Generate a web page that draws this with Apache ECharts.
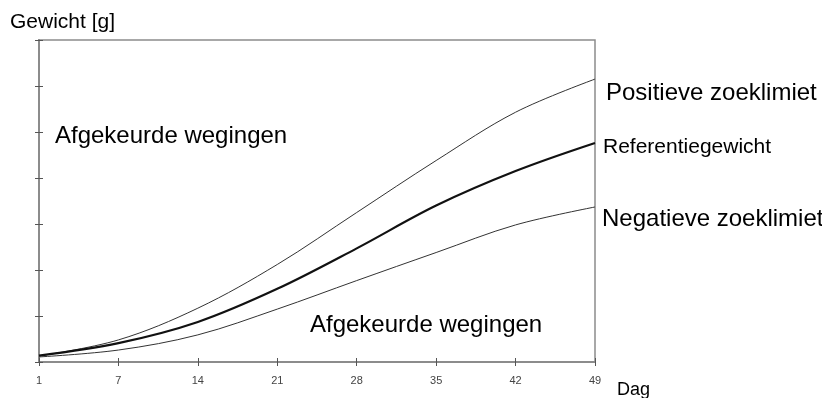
<!DOCTYPE html>
<html>
<head>
<meta charset="utf-8">
<script src="https://cdn.jsdelivr.net/npm/echarts@6/dist/echarts.min.js"></script>
<style>
  html, body { margin: 0; padding: 0; background: #fff; }
  #chart { width: 822px; height: 398px; }
</style>
</head>
<body>
<div id="chart"></div>
<script>
// days on the x axis (0 is shown as "1")
const days = [0, 7, 14, 21, 28, 35, 42, 49];
const xTicks = ['1', '7', '14', '21', '28', '35', '42', '49'];

// curves (arbitrary weight units, 7 grid steps)
const positief = [0.13, 0.48, 1.17, 2.12, 3.25, 4.38, 5.43, 6.15];
const referentie = [0.14, 0.41, 0.87, 1.59, 2.47, 3.40, 4.15, 4.76];
const negatief = [0.11, 0.26, 0.59, 1.15, 1.77, 2.38, 2.98, 3.37];

const pairs = (ys) => days.map((d, i) => [d, ys[i]]);

const FONT = 'Liberation Sans, Arial, sans-serif';
const AXIS = '#8c8c8c';

const chart = echarts.init(document.getElementById('chart'), null, { renderer: 'canvas' });

const xBase = {
  type: 'value',
  min: 0,
  max: 49,
  interval: 7,
  splitLine: { show: false },
  axisLine: { show: true, onZero: false, lineStyle: { color: AXIS, width: 2 } },
};

const yBase = {
  type: 'value',
  min: 0,
  max: 7,
  interval: 1,
  splitLine: { show: false },
  axisLabel: { show: false },
  axisLine: { show: true, onZero: false, lineStyle: { color: AXIS, width: 2 } },
};

const curve = (name, ys, width, color, label) => ({
  name,
  type: 'line',
  data: pairs(ys),
  smooth: 0.35,
  showSymbol: false,
  lineStyle: { color, width },
  endLabel: { show: true, formatter: name, fontFamily: FONT, color: '#000', ...label },
});

chart.setOption({
  animation: false,
  backgroundColor: '#fff',
  grid: {
    left: 39, right: 227, top: 40, bottom: 36,
    show: true, borderColor: AXIS, borderWidth: 1.5,
  },
  xAxis: [
    {
      ...xBase,
      axisTick: { show: true, inside: false, length: 4, lineStyle: { color: '#555' } },
      axisLabel: {
        show: true, margin: 13, fontFamily: FONT, fontSize: 11, color: '#444',
        formatter: (v) => xTicks[days.indexOf(v)],
      },
    },
    {
      ...xBase,
      position: 'bottom',
      axisTick: { show: true, inside: true, length: 4, lineStyle: { color: '#555' } },
      axisLabel: { show: false },
    },
  ],
  yAxis: [
    { ...yBase, axisTick: { show: true, inside: false, length: 4, lineStyle: { color: '#555' } } },
    { ...yBase, position: 'left', axisTick: { show: true, inside: true, length: 4, lineStyle: { color: '#555' } } },
  ],
  series: [
    curve('Positieve zoeklimiet', positief, 1, '#333', { fontSize: 24, offset: [3, 14] }),
    curve('Referentiegewicht', referentie, 2.2, '#111', { fontSize: 21, offset: [0, 4] }),
    curve('Negatieve zoeklimiet', negatief, 1, '#333', { fontSize: 24, offset: [-1, 12] }),
  ],
  graphic: [
    {
      type: 'text', left: 10, top: 12,
      style: { text: 'Gewicht [g]', font: '21px ' + FONT, fill: '#000' },
    },
    {
      type: 'text', left: 617, top: 381,
      style: { text: 'Dag', font: '18px ' + FONT, fill: '#000' },
    },
    {
      type: 'text', left: 55, top: 124,
      style: { text: 'Afgekeurde wegingen', font: '24px ' + FONT, fill: '#000' },
    },
    {
      type: 'text', left: 310, top: 313,
      style: { text: 'Afgekeurde wegingen', font: '24px ' + FONT, fill: '#000' },
    },
  ],
});

window.addEventListener('resize', () => chart.resize());
</script>
</body>
</html>
